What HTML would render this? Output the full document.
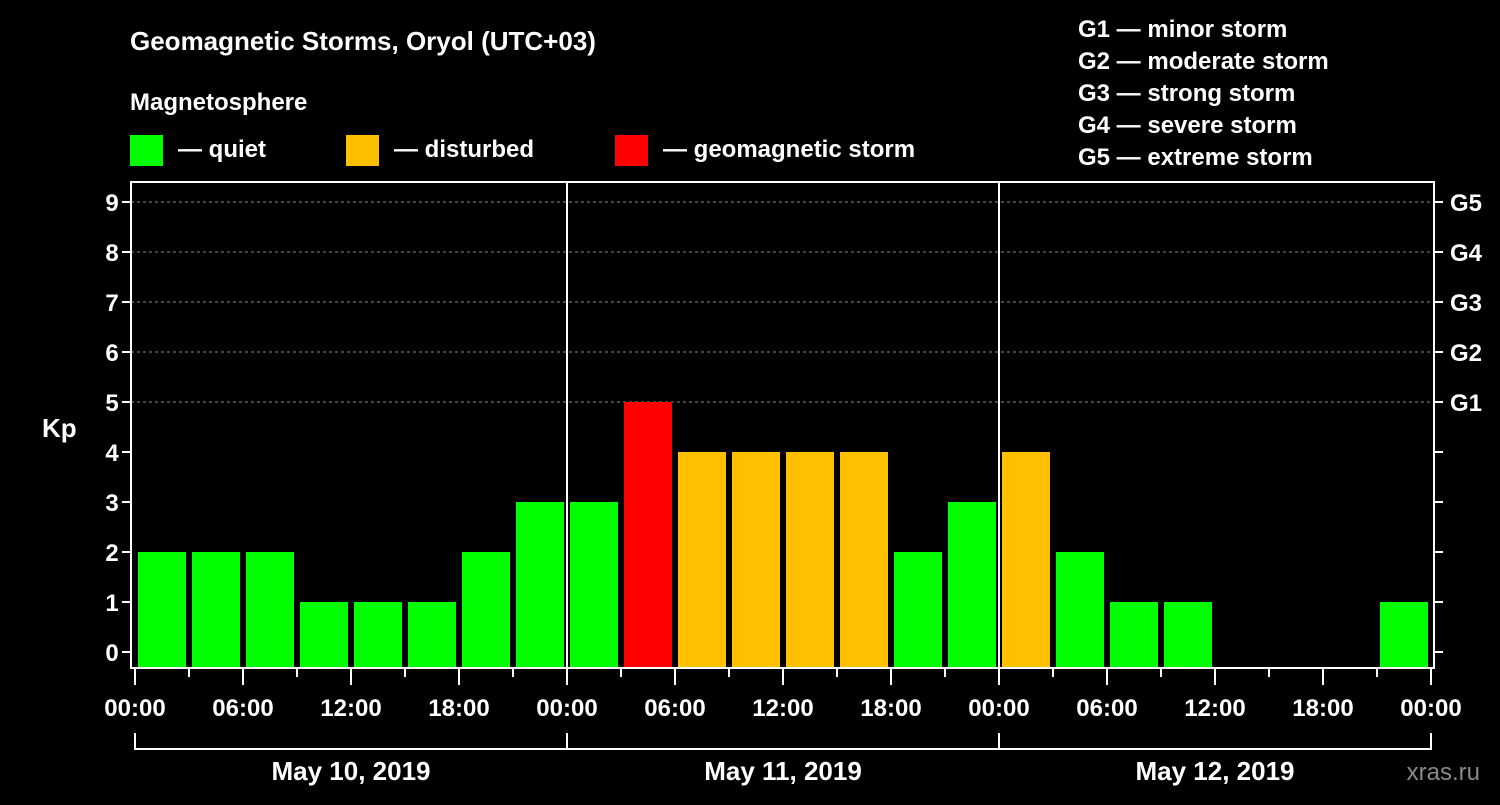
<!DOCTYPE html>
<html><head><meta charset="utf-8"><style>
body{margin:0;background:#000;width:1500px;height:800px;overflow:hidden}
text{font-family:"Liberation Sans",Arial,sans-serif;font-weight:bold;fill:#fff}
</style></head><body>
<svg id="c" width="1500" height="800">
<text x="130" y="50" font-size="26">Geomagnetic Storms, Oryol (UTC+03)</text>
<text x="130" y="110" font-size="24">Magnetosphere</text>
<rect x="130" y="135" width="33" height="31" fill="#00ff00"/>
<text x="178" y="157" font-size="24">— quiet</text>
<rect x="346" y="135" width="33" height="31" fill="#ffc000"/>
<text x="394" y="157" font-size="24">— disturbed</text>
<rect x="615" y="135" width="33" height="31" fill="#ff0000"/>
<text x="663" y="157" font-size="24">— geomagnetic storm</text>
<g font-size="24">
<text x="1078" y="37">G1 — minor storm</text>
<text x="1078" y="69">G2 — moderate storm</text>
<text x="1078" y="101">G3 — strong storm</text>
<text x="1078" y="133">G4 — severe storm</text>
<text x="1078" y="165">G5 — extreme storm</text>
</g>
<text x="42" y="437" font-size="26">Kp</text>
<text x="1480" y="780" font-size="24" fill="#888" style="fill:#8a8a8a;font-weight:normal" text-anchor="end">xras.ru</text>
<g id="plot"></g>
</svg>
<script>
const kpValues=[2,2,2,1,1,1,2,3, 3,5,4,4,4,4,2,3, 4,2,1,1,0,0,0,1];
const dayLabels=["May 10, 2019","May 11, 2019","May 12, 2019"];
const hourLabels=["00:00","06:00","12:00","18:00"];
const yTicks=[0,1,2,3,4,5,6,7,8,9];
const gLabels=[[5,"G1"],[6,"G2"],[7,"G3"],[8,"G4"],[9,"G5"]];
const NS="http://www.w3.org/2000/svg";
const g=document.getElementById('plot');
const x0=135,dayW=432,slot=54,fl=131,fr=1434,ft=182,fb=668;
const y=v=>652-v*50;
function el(t,a,txt){const e=document.createElementNS(NS,t);for(const k in a)e.setAttribute(k,a[k]);if(txt!=null)e.textContent=txt;g.appendChild(e);return e;}
// grid
gLabels.forEach(([v,l])=>{
 const e=el('line',{x1:fl,x2:fr,y1:y(v),y2:y(v),stroke:'#888','stroke-dasharray':'3,3','stroke-width':1});
 
 
 const t=el('text',{x:1450,y:y(v)+9,'font-size':24},l);
 
 
});
// bars
kpValues.forEach((v,i)=>{
 if(v<=0)return;
 const c=v>=5?'#ff0000':v>=4?'#ffc000':'#00ff00';
 const r=el('rect',{x:x0+i*slot+3,y:y(v),width:48,height:fb-y(v),fill:c});
 
 
});
// frame
const f=el('rect',{x:fl,y:ft,width:fr-fl,height:fb-ft,fill:'none',stroke:'#fff','stroke-width':2});


for(let d=1;d<3;d++){const l=el('line',{x1:x0+d*dayW,x2:x0+d*dayW,y1:ft,y2:fb,stroke:'#fff','stroke-width':2});
 
 }
// y ticks
yTicks.forEach(v=>{
 el('line',{x1:fl-9,x2:fl,y1:y(v),y2:y(v),stroke:'#fff','stroke-width':2});
 el('line',{x1:fr,x2:fr+9,y1:y(v),y2:y(v),stroke:'#fff','stroke-width':2});
 const t=el('text',{x:112,y:y(v)+9,'font-size':24,'text-anchor':'middle'},String(v));
 
 
});
// x ticks
for(let i=0;i<=24;i++){
 const x=x0+i*slot,maj=i%2==0;
 el('line',{x1:x,x2:x,y1:fb,y2:fb+(maj?17:9),stroke:'#fff','stroke-width':2});
 if(maj){const lab=hourLabels[(i/2)%4];
  const t=el('text',{x:x,y:716,'font-size':24,'text-anchor':'middle'},lab);
  
  }
}
// day brackets
dayLabels.forEach((d,i)=>{
 const a=x0+i*dayW,b=a+dayW;
 el('path',{d:`M${a} 733V749H${b}V733`,fill:'none',stroke:'#fff','stroke-width':2});
 const t=el('text',{x:(a+b)/2,y:780,'font-size':26,'text-anchor':'middle'},d);
 
 
});
</script>
</body></html>
